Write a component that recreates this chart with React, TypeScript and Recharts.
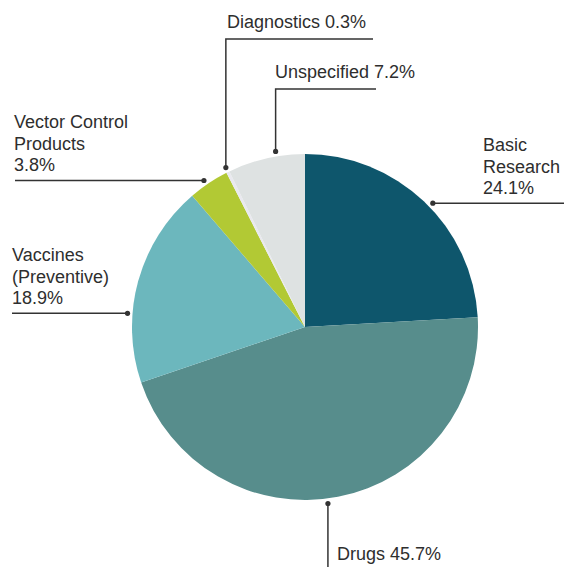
import React from "react";
import { PieChart, Pie, Cell } from "recharts";

const categories = [
  "Basic Research",
  "Drugs",
  "Vaccines (Preventive)",
  "Vector Control Products",
  "Diagnostics",
  "Unspecified",
];
const shares = [24.1, 45.7, 18.9, 3.8, 0.3, 7.2];
const labelTexts = [
  ["Basic", "Research"],
  ["Drugs"],
  ["Vaccines", "(Preventive)"],
  ["Vector Control", "Products"],
  ["Diagnostics"],
  ["Unspecified"],
];
const colors = ["#0e566c", "#578d8c", "#6cb7bd", "#b2c934", "#e9e9ef", "#dee2e2"];

// label layout: dot angle (deg) on the rim, and where the leader/text go
const labelLayout = [
  { angle: 44.1, kind: "right", endX: 564, textX: 483 },
  { angle: -82.6, kind: "down", endY: 567, textX: 337, textY: 560 },
  { angle: 175.6, kind: "left", endX: 12, textX: 12 },
  { angle: 124.6, kind: "left", endX: 15, textX: 14 },
  { angle: 116.4, kind: "up", elbowY: 39, endX: 373, textX: 227, textY: 28 },
  { angle: 99.5, kind: "up", elbowY: 89, endX: 376, textX: 275, textY: 78 },
];

const data = categories.map((name, i) => ({ name, value: shares[i] }));

const FONT = "'Liberation Sans', Arial, Helvetica, sans-serif";
const TEXT_COLOR = "#2e2e2e";
const LINE_COLOR = "#333333";

const renderLabel = (props: any) => {
  const { cx, cy, outerRadius, index } = props;
  const lay = labelLayout[index];
  const R = outerRadius + 5;
  const rad = (lay.angle * Math.PI) / 180;
  const dx = cx + R * Math.cos(rad);
  const dy = cy - R * Math.sin(rad);
  const pct = `${shares[index].toFixed(1)}%`;
  const lines = labelTexts[index];
  const lineH = 21.6;
  const common = { fontFamily: FONT, fontSize: 18, fill: TEXT_COLOR };

  if (lay.kind === "left" || lay.kind === "right") {
    const all = [...lines, pct];
    const lastBase = dy - 9;
    return (
      <g key={`lbl-${index}`}>
        <line x1={dx} y1={dy} x2={lay.endX} y2={dy} stroke={LINE_COLOR} strokeWidth={1.5} />
        <circle cx={dx} cy={dy} r={2.6} fill={LINE_COLOR} />
        {all.map((t, j) => (
          <text key={j} x={lay.textX} y={lastBase - (all.length - 1 - j) * lineH} {...common}>
            {t}
          </text>
        ))}
      </g>
    );
  }
  if (lay.kind === "down") {
    return (
      <g key={`lbl-${index}`}>
        <line x1={dx} y1={dy} x2={dx} y2={lay.endY} stroke={LINE_COLOR} strokeWidth={1.5} />
        <circle cx={dx} cy={dy} r={2.6} fill={LINE_COLOR} />
        <text x={lay.textX} y={lay.textY} {...common}>
          {`${lines[0]} ${pct}`}
        </text>
      </g>
    );
  }
  return (
    <g key={`lbl-${index}`}>
      <polyline
        points={`${dx},${dy} ${dx},${lay.elbowY} ${lay.endX},${lay.elbowY}`}
        fill="none"
        stroke={LINE_COLOR}
        strokeWidth={1.5}
      />
      <circle cx={dx} cy={dy} r={2.6} fill={LINE_COLOR} />
      <text x={lay.textX} y={lay.textY} {...common}>
        {`${lines[0]} ${pct}`}
      </text>
    </g>
  );
};

export default function App() {
  return (
    <div style={{ position: "absolute", left: 0, top: 0, width: 564, height: 567, background: "#ffffff" }}>
      <PieChart width={564} height={567} margin={{ top: 0, right: 0, bottom: 0, left: 0 }}>
        <Pie
          data={data}
          dataKey="value"
          nameKey="name"
          cx={305}
          cy={327}
          outerRadius={173}
          startAngle={90}
          endAngle={-270}
          stroke="none"
          label={renderLabel}
          labelLine={false}
          isAnimationActive={false}
        >
          {data.map((d, i) => (
            <Cell key={d.name} fill={colors[i]} />
          ))}
        </Pie>
      </PieChart>
    </div>
  );
}
